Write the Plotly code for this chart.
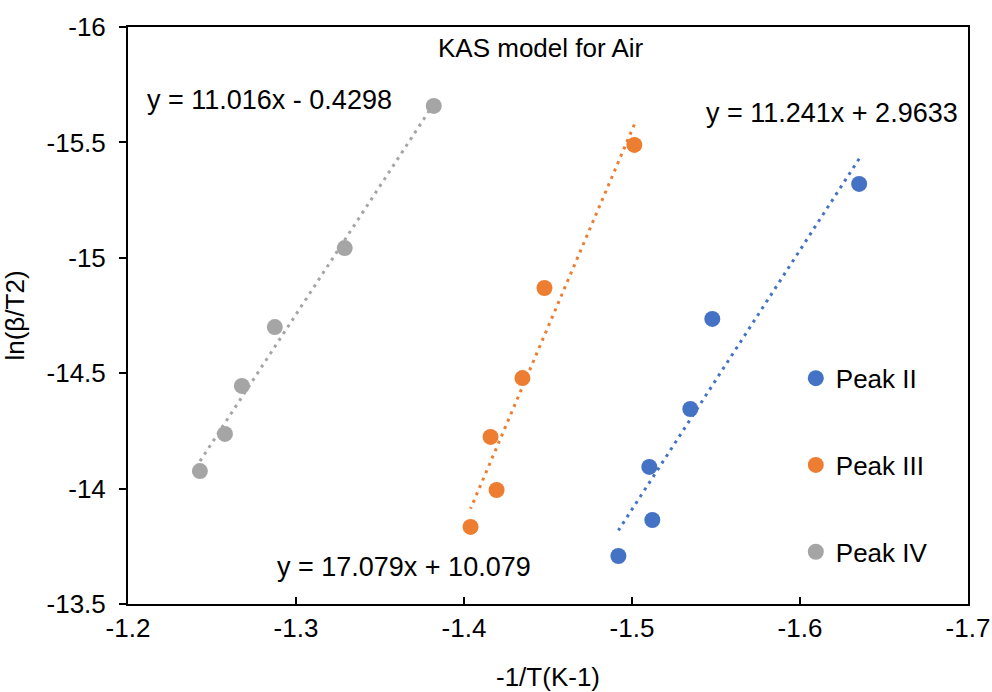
import numpy as np
import plotly.graph_objects as go

# Data
peak2_x = [-1.4919, -1.5121, -1.5103, -1.5347, -1.5478, -1.6352]
peak2_y = [-13.708, -13.864, -14.094, -14.345, -14.735, -15.320]
peak3_x = [-1.4039, -1.4194, -1.4158, -1.4348, -1.4479, -1.5014]
peak3_y = [-13.834, -13.994, -14.224, -14.479, -14.869, -15.489]
peak4_x = [-1.2428, -1.2577, -1.2678, -1.2874, -1.3290, -1.3820]
peak4_y = [-14.076, -14.237, -14.445, -14.700, -15.042, -15.658]

series_names = ["Peak II", "Peak III", "Peak IV"]
equations = ["y = 11.241x + 2.9633", "y = 17.079x + 10.079", "y = 11.016x - 0.4298"]
colors = ["#4472C4", "#ED7D31", "#A5A5A5"]

x_tick_vals = [-1.2, -1.3, -1.4, -1.5, -1.6, -1.7]
x_tick_text = ["-1.2", "-1.3", "-1.4", "-1.5", "-1.6", "-1.7"]
y_tick_vals = [-16, -15.5, -15, -14.5, -14, -13.5]
y_tick_text = ["-16", "-15.5", "-15", "-14.5", "-14", "-13.5"]

FONT = "Liberation Sans, Arial, sans-serif"
FS = 26

fig = go.Figure()
data = [(peak2_x, peak2_y), (peak3_x, peak3_y), (peak4_x, peak4_y)]
for (xs, ys), name, col in zip(data, series_names, colors):
    xs = np.array(xs); ys = np.array(ys)
    m, b = np.polyfit(xs, ys, 1)
    xl = np.array([xs.min(), xs.max()])
    fig.add_trace(go.Scatter(x=xl, y=m * xl + b, mode="lines",
                             line=dict(color=col, width=3, dash="3px,5px"),
                             showlegend=False, hoverinfo="skip"))
for (xs, ys), name, col in zip(data, series_names, colors):
    fig.add_trace(go.Scatter(x=xs, y=ys, mode="markers", name=name,
                             legendgroup=name,
                             marker=dict(color=col, size=16)))

ann = [
    dict(text="KAS model for Air", x=0.492, y=0.9636, size=FS),
    dict(text=equations[2], x=0.169, y=0.873, size=27),
    dict(text=equations[0], x=0.838, y=0.851, size=27),
    dict(text=equations[1], x=0.328, y=0.064, size=27),
]
for a in ann:
    fig.add_annotation(text=a["text"], x=a["x"], y=a["y"], xref="paper", yref="paper",
                       showarrow=False, xanchor="center", yanchor="middle",
                       font=dict(family=FONT, size=a["size"], color="#000"))

axis_common = dict(showline=True, linecolor="black", linewidth=2, mirror=True,
                   showgrid=False, zeroline=False, automargin=False,
                   tickfont=dict(family=FONT, size=FS, color="#000"),
                   ticklen=7, tickcolor="black", tickwidth=1.5)

fig.update_xaxes(range=[-1.2, -1.7], tickmode="array", tickvals=x_tick_vals, ticktext=x_tick_text,
                 ticks="inside",
                 title=dict(text="-1/T(K-1)", font=dict(family=FONT, size=FS, color="#000"), standoff=28),
                 **axis_common)
fig.update_yaxes(range=[-13.5, -16], tickmode="array", tickvals=y_tick_vals, ticktext=y_tick_text,
                 ticks="outside", ticklabelstandoff=8,
                 title=dict(text="ln(β/T2)", font=dict(family=FONT, size=FS, color="#000"), standoff=19),
                 **axis_common)

fig.update_layout(
    width=992, height=692,
    margin=dict(l=128, r=24, t=27, b=88, autoexpand=False),
    paper_bgcolor="white", plot_bgcolor="white",
    font=dict(family=FONT, size=FS, color="#000"),
    legend=dict(x=0.795, y=0.432, xanchor="left", yanchor="top",
                traceorder="grouped", tracegroupgap=50,
                font=dict(family=FONT, size=FS, color="#000"),
                bgcolor="rgba(0,0,0,0)", itemwidth=30),
)

fig.write_html("out.html")
